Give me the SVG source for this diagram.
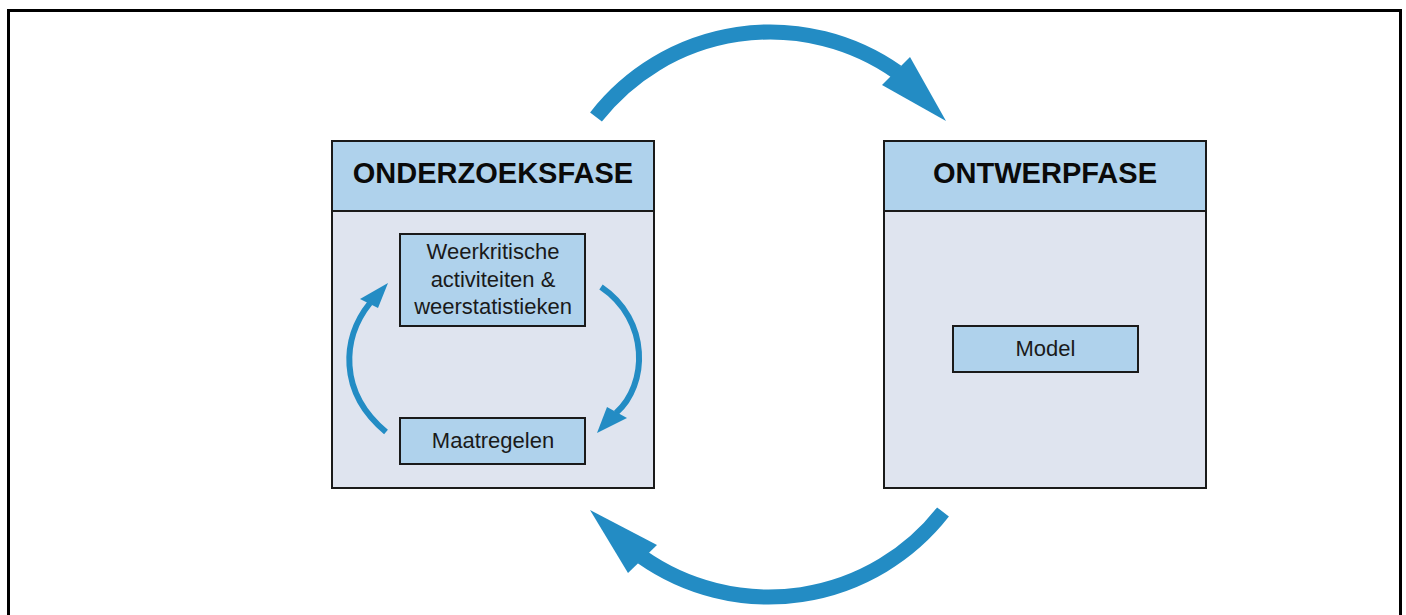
<svg xmlns="http://www.w3.org/2000/svg" width="1406" height="615" viewBox="0 0 1406 615">
  <style>
    .frame { fill: none; stroke: #000; stroke-width: 3; }
    .body { fill: #dfe4ef; stroke: #1a1a1a; stroke-width: 2; }
    .head { fill: #afd2ec; stroke: #1a1a1a; stroke-width: 2; }
    .item { fill: #afd2ec; stroke: #1a1a1a; stroke-width: 2; }
    .title { font-family: "Liberation Sans", Arial, sans-serif; font-weight: bold; font-size: 29px; fill: #0a0a0a; text-anchor: middle; }
    .label { font-family: "Liberation Sans", Arial, sans-serif; font-size: 22px; fill: #1a1a1a; text-anchor: middle; }
    .big { fill: none; stroke: #238cc4; stroke-width: 15; }
    .small { fill: none; stroke: #238cc4; stroke-width: 6; }
    .head-tip { fill: #238cc4; }
  </style>

  <rect class="frame" x="8.5" y="10.5" width="1392" height="640"/>

  <!-- research phase -->
  <g id="onderzoeksfase">
    <rect class="body" x="332" y="141" width="322" height="347"/>
    <rect class="head" x="332" y="141" width="322" height="70"/>
    <text class="title" x="493" y="183">ONDERZOEKSFASE</text>
  </g>
  <g id="weerkritische">
    <rect class="item" x="400" y="234" width="185" height="92"/>
    <text class="label" x="493" y="259">Weerkritische</text>
    <text class="label" x="493" y="287">activiteiten &amp;</text>
    <text class="label" x="493" y="314">weerstatistieken</text>
  </g>
  <g id="maatregelen">
    <rect class="item" x="400" y="418" width="185" height="46"/>
    <text class="label" x="493" y="448">Maatregelen</text>
  </g>

  <!-- design phase -->
  <g id="ontwerpfase">
    <rect class="body" x="884" y="141" width="322" height="347"/>
    <rect class="head" x="884" y="141" width="322" height="70"/>
    <text class="title" x="1045" y="183">ONTWERPFASE</text>
  </g>
  <g id="model">
    <rect class="item" x="953" y="326" width="185" height="46"/>
    <text class="label" x="1045.5" y="356">Model</text>
  </g>

  <g id="connectors">
    <!-- research to design -->
    <path class="big" d="M 596 117 A 221 221 0 0 1 897 72"/>
    <polygon class="head-tip" points="946,121 882,85 910,57"/>
    <!-- design back to research -->
    <path class="big" d="M 943 512 A 221 221 0 0 1 642 557"/>
    <polygon class="head-tip" points="590,510 628,573 657,545"/>
    <!-- inner cycle -->
    <path class="small" d="M 601 287 C 650 320 648 385 616 413"/>
    <polygon class="head-tip" points="597,433 607,407 627,418"/>
    <path class="small" d="M 386 432 C 338 392 342 338 370 303"/>
    <polygon class="head-tip" points="388,283 360,299 378,308"/>
  </g>
</svg>
